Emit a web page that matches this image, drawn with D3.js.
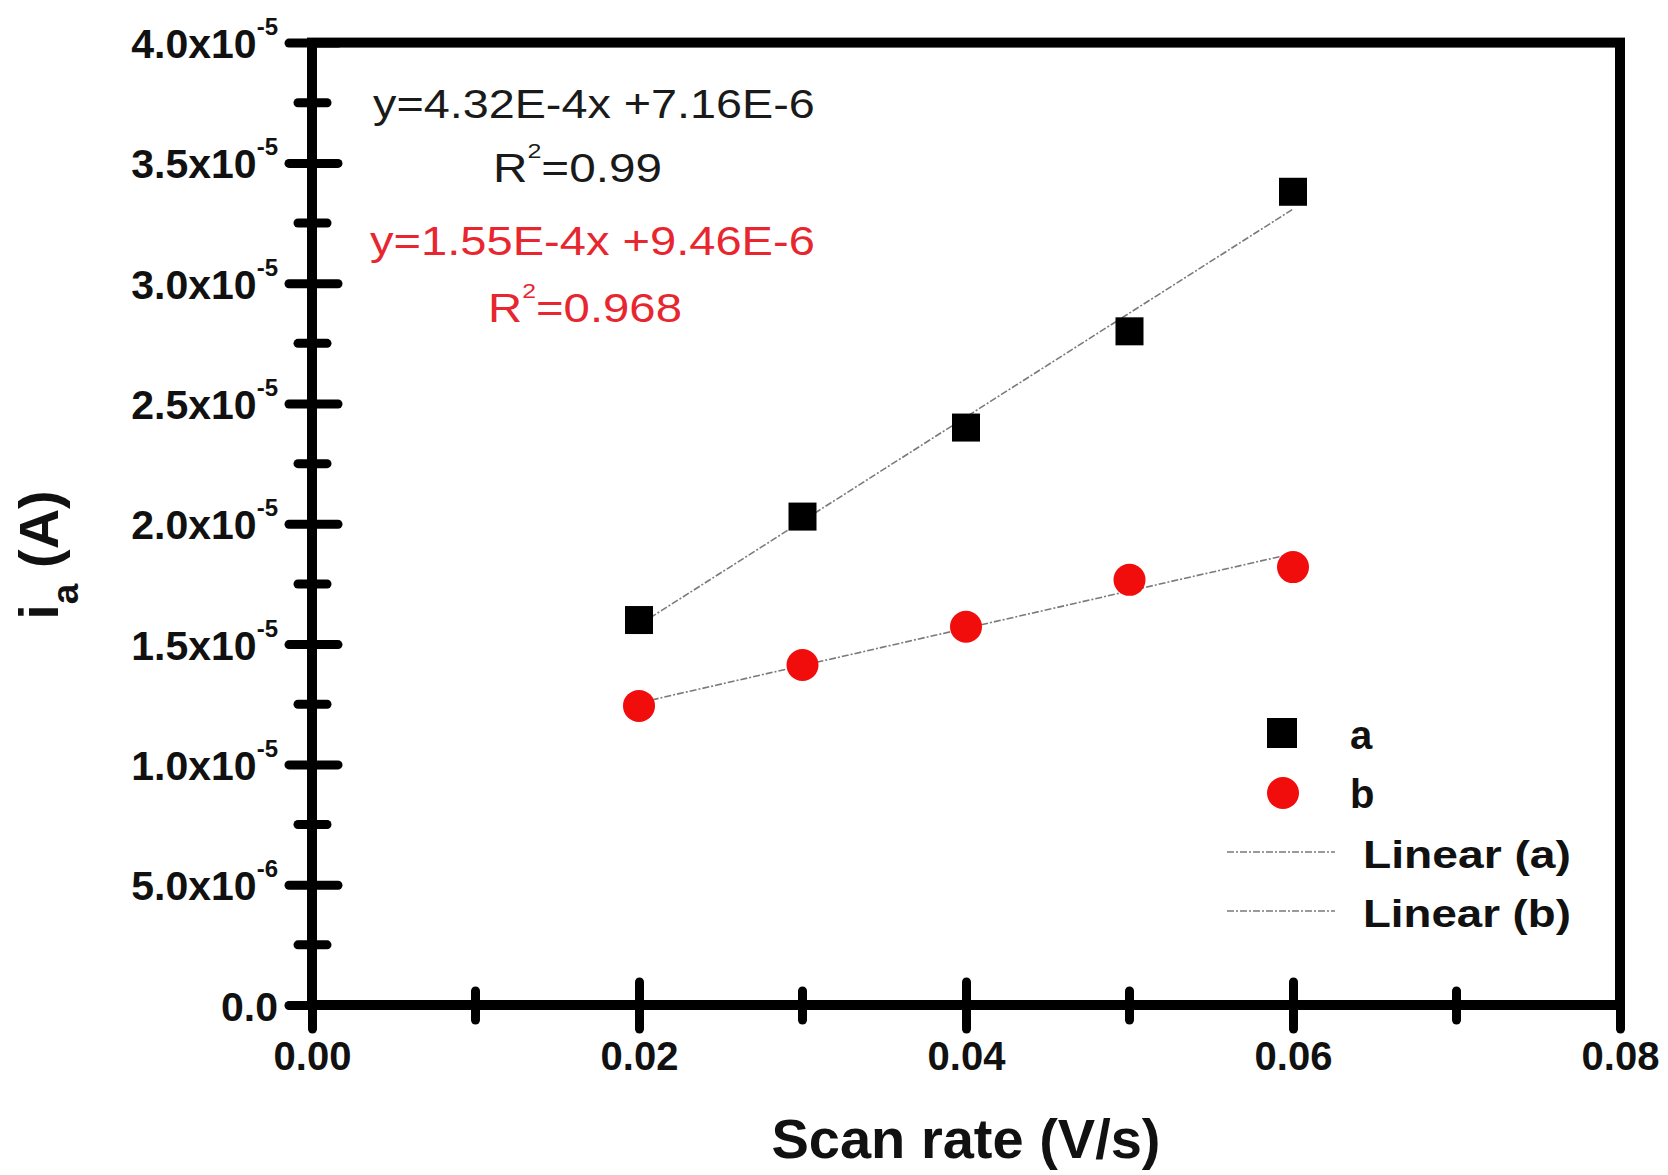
<!DOCTYPE html>
<html><head><meta charset="utf-8">
<script src="https://cdn.jsdelivr.net/npm/d3@7"></script>
<style>html,body{margin:0;padding:0;background:#fff;} svg{display:block;}</style>
</head><body>
<svg id="chart" width="1668" height="1175"></svg>
<script>
// ---------- data ----------
const scanRates = [0.02, 0.03, 0.04, 0.05, 0.06];
const seriesA = [1.60e-5, 2.03e-5, 2.40e-5, 2.80e-5, 3.38e-5];
const seriesB = [1.243e-5, 1.413e-5, 1.572e-5, 1.767e-5, 1.82e-5];
const seriesNames = ["a", "b"];
const fitNames = ["Linear (a)", "Linear (b)"];
const fitSlopes = [4.32e-4, 1.55e-4];
const fitIntercepts = [7.16e-6, 9.46e-6];
const fitRange = [0.02, 0.06];
const equationA = ["y=4.32E-4x +7.16E-6", "0.99"];
const equationB = ["y=1.55E-4x +9.46E-6", "0.968"];
const xMajorTicks = [0, 0.02, 0.04, 0.06, 0.08];
const xTickLabels = ["0.00", "0.02", "0.04", "0.06", "0.08"];
const xMinorTicks = [0.01, 0.03, 0.05, 0.07];
const yMajorTicks = [0, 5e-6, 1e-5, 1.5e-5, 2e-5, 2.5e-5, 3e-5, 3.5e-5, 4e-5];
const yTickMantissas = ["0.0", "5.0x10", "1.0x10", "1.5x10", "2.0x10", "2.5x10", "3.0x10", "3.5x10", "4.0x10"];
const yTickExponents = ["", "-6", "-5", "-5", "-5", "-5", "-5", "-5", "-5"];
const yMinorTicks = [2.5e-6, 7.5e-6, 1.25e-5, 1.75e-5, 2.25e-5, 2.75e-5, 3.25e-5, 3.75e-5];
const xTitle = "Scan rate (V/s)";

// ---------- layout ----------
const FONT = "'Liberation Sans', Arial, Helvetica, sans-serif";
const L = 312, R = 1620, T = 42.6, B = 1005;
const svg = d3.select("#chart");
const x = d3.scaleLinear().domain([0, 0.08]).range([L, R]);
const y = d3.scaleLinear().domain([0, 4e-5]).range([B, T]);
const RED = "#f20d0d";
const EQRED = "#e8262f";

// fit lines
const fitLine = d3.line().x(d => x(d[0])).y(d => y(d[1]));
fitSlopes.forEach((s, i) => {
  const pts = fitRange.map(v => [v, s * v + fitIntercepts[i]]);
  svg.append("path").attr("d", fitLine(pts))
    .attr("fill", "none").attr("stroke", "#7a7a7a").attr("stroke-width", 1.6)
    .attr("stroke-dasharray", "7 2 2 2");
});

// markers
const sq = 28;
svg.append("g").selectAll("rect").data(scanRates).join("rect")
  .attr("x", (d) => x(d) - sq / 2)
  .attr("y", (d, i) => y(seriesA[i]) - sq / 2)
  .attr("width", sq).attr("height", sq).attr("fill", "#000");
svg.append("g").selectAll("circle").data(scanRates).join("circle")
  .attr("cx", d => x(d)).attr("cy", (d, i) => y(seriesB[i]))
  .attr("r", 16).attr("fill", RED);

// frame
svg.append("rect").attr("x", L).attr("y", T).attr("width", R - L).attr("height", B - T)
  .attr("fill", "none").attr("stroke", "#000").attr("stroke-width", 10);

// x axis
const xAxis = svg.append("g").attr("transform", `translate(0,${B})`)
  .call(d3.axisBottom(x).tickValues(xMajorTicks).tickFormat((d, i) => xTickLabels[i]).tickSize(0));
xAxis.select(".domain").remove();
xAxis.selectAll(".tick line").attr("y1", -23).attr("y2", 24)
  .attr("stroke", "#000").attr("stroke-width", 9).attr("stroke-linecap", "round");
xAxis.selectAll(".tick text").attr("y", 65).attr("dy", null)
  .attr("font-family", FONT).attr("font-weight", "bold").attr("font-size", 40).attr("fill", "#111");
svg.append("g").selectAll("line").data(xMinorTicks).join("line")
  .attr("x1", d => x(d)).attr("x2", d => x(d)).attr("y1", B - 14).attr("y2", B + 15)
  .attr("stroke", "#000").attr("stroke-width", 9).attr("stroke-linecap", "round");

// y axis
const yAxis = svg.append("g").attr("transform", `translate(${L},0)`)
  .call(d3.axisLeft(y).tickValues(yMajorTicks).tickSize(0));
yAxis.select(".domain").remove();
yAxis.selectAll(".tick line").attr("x1", -23).attr("x2", 26)
  .attr("stroke", "#000").attr("stroke-width", 9).attr("stroke-linecap", "round");
yAxis.selectAll(".tick text").each(function(d, i) {
  const t = d3.select(this);
  t.text(null).attr("x", -34).attr("y", 15).attr("dy", null)
    .attr("text-anchor", "end")
    .attr("font-family", FONT).attr("font-weight", "bold").attr("font-size", 41).attr("fill", "#111");
  t.append("tspan").text(yTickMantissas[i]);
  if (yTickExponents[i]) t.append("tspan").attr("dy", -23).attr("font-size", 24).text(yTickExponents[i]);
});
svg.append("g").selectAll("line").data(yMinorTicks).join("line")
  .attr("y1", d => y(d)).attr("y2", d => y(d)).attr("x1", L - 14).attr("x2", L + 15)
  .attr("stroke", "#000").attr("stroke-width", 9).attr("stroke-linecap", "round");

// axis titles
svg.append("text").attr("x", (L + R) / 2).attr("y", 1158).attr("text-anchor", "middle")
  .attr("font-family", FONT).attr("font-weight", "bold").attr("font-size", 56).attr("fill", "#111")
  .text(xTitle);
const yt = svg.append("text").attr("transform", "translate(58,555) rotate(-90)")
  .attr("text-anchor", "middle").attr("font-family", FONT).attr("font-weight", "bold")
  .attr("font-size", 56).attr("fill", "#111");
yt.append("tspan").text("i");
yt.append("tspan").attr("font-size", 37).attr("dy", 20).text("a");
yt.append("tspan").attr("dy", -20).text(" (A)");

// stretched text helper
function stretched(x0, base, width, build) {
  const g = svg.append("g");
  const t = g.append("text").attr("font-family", FONT);
  build(t);
  const w = t.node().getBBox().width;
  g.attr("transform", `translate(${x0},${base}) scale(${width / w},1)`);
  return g;
}
function r2(t, val, col) {
  t.attr("font-size", 40).attr("fill", col);
  t.append("tspan").text("R");
  t.append("tspan").attr("font-size", 21).attr("dy", -24).text("2");
  t.append("tspan").attr("dy", 24).text("=" + val);
}
stretched(373, 118, 442, t => t.attr("font-size", 40).attr("fill", "#1a1a1a").text(equationA[0]));
stretched(493, 182, 169, t => r2(t, equationA[1], "#1a1a1a"));
stretched(370, 255, 445, t => t.attr("font-size", 40).attr("fill", EQRED).text(equationB[0]));
stretched(488, 322, 194, t => r2(t, equationB[1], EQRED));

// legend
const lg = svg.append("g");
lg.append("rect").attr("x", 1282 - 15).attr("y", 733 - 15).attr("width", 30).attr("height", 30).attr("fill", "#000");
lg.append("circle").attr("cx", 1283).attr("cy", 793).attr("r", 16).attr("fill", RED);
[seriesNames[0], seriesNames[1]].forEach((n, i) => {
  lg.append("text").attr("x", 1350).attr("y", 749 + i * 59)
    .attr("font-family", FONT).attr("font-weight", "bold").attr("font-size", 40).attr("fill", "#111").text(n);
});
fitNames.forEach((n, i) => {
  const ly = 852 + i * 59;
  lg.append("line").attr("x1", 1227).attr("x2", 1335).attr("y1", ly).attr("y2", ly)
    .attr("stroke", "#7a7a7a").attr("stroke-width", 1.6).attr("stroke-dasharray", "7 2 2 2");
  stretched(1363, 868 + i * 59, 208, t => t.attr("font-size", 39).attr("font-weight", "bold").attr("fill", "#111").text(n));
});
</script>
</body></html>
